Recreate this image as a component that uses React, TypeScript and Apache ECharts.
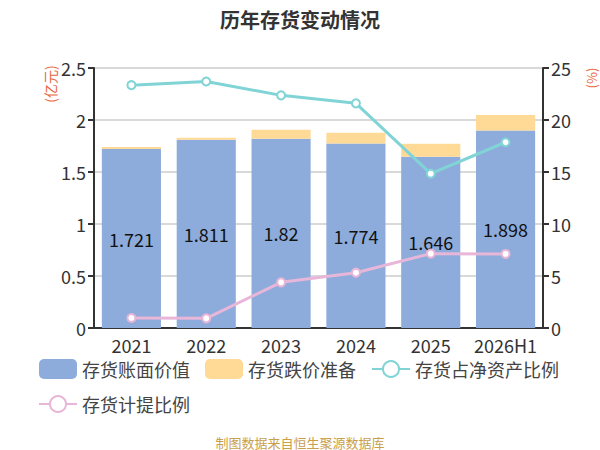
import { useEffect, useRef } from 'react';
import * as echarts from 'echarts';

// 历年存货变动情况
const years = ['2021', '2022', '2023', '2024', '2025', '2026H1'];
const bookValue = [1.721, 1.811, 1.82, 1.774, 1.646, 1.898]; // 存货账面价值 (亿元)
const impairment = [0.019, 0.019, 0.087, 0.104, 0.126, 0.15]; // 存货跌价准备 (亿元)
const netAssetRatio = [23.35, 23.7, 22.37, 21.6, 14.84, 17.86]; // 存货占净资产比例 (%)
const provisionRatio = [0.96, 0.93, 4.39, 5.32, 7.15, 7.12]; // 存货计提比例 (%)

const FONT = '"Noto Sans CJK SC", "Noto Sans", sans-serif';

export default function App() {
  const chartRef = useRef<HTMLDivElement>(null);

  useEffect(() => {
    if (!chartRef.current) return;
    document.body.style.margin = '0';
    const chart = echarts.init(chartRef.current, undefined, { renderer: 'svg' });

    const option: echarts.EChartsOption = {
      animation: false,
      backgroundColor: '#fff',
      textStyle: { fontFamily: FONT },
      title: {
        text: '历年存货变动情况',
        left: 'center',
        top: 4,
        textStyle: { fontSize: 20, fontWeight: 'bold', color: '#333', fontFamily: FONT },
      },
      grid: { left: 94, right: 57, top: 68, bottom: 122 },
      legend: {
        left: 33,
        top: 354,
        itemWidth: 38,
        itemHeight: 20,
        itemGap: 15,
        textStyle: { fontSize: 18, color: '#444', fontFamily: FONT, lineHeight: 20 },
        data: [
          { name: '存货账面价值', icon: 'roundRect' },
          { name: '存货跌价准备', icon: 'roundRect' },
          { name: '存货占净资产比例' },
          { name: '存货计提比例' },
        ],
      },
      xAxis: {
        type: 'category',
        data: years,
        axisLine: { lineStyle: { color: '#333', width: 2 } },
        axisTick: { lineStyle: { color: '#333', width: 2 }, length: 6 },
        axisLabel: {
          interval: 0,
          fontSize: 18,
          lineHeight: 18,
          color: '#333',
          margin: 8,
          fontFamily: FONT,
        },
      },
      yAxis: [
        {
          type: 'value',
          min: 0,
          max: 2.5,
          interval: 0.5,
          axisLine: { show: true, lineStyle: { color: '#333', width: 2 } },
          axisTick: { show: true, lineStyle: { color: '#333', width: 2 }, length: 6 },
          axisLabel: { fontSize: 18, color: '#333', margin: 8, fontFamily: FONT },
          splitLine: { lineStyle: { color: '#ccc', width: 1.5 } },
        },
        {
          type: 'value',
          min: 0,
          max: 25,
          interval: 5,
          axisLine: { show: true, lineStyle: { color: '#333', width: 2 } },
          axisTick: { show: true, lineStyle: { color: '#333', width: 2 }, length: 6 },
          axisLabel: { fontSize: 18, color: '#333', margin: 8, fontFamily: FONT },
          splitLine: { show: false },
        },
      ],
      series: [
        {
          name: '存货账面价值',
          type: 'bar',
          stack: 'inv',
          data: bookValue,
          barCategoryGap: '21%',
          itemStyle: { color: '#8dacdb' },
          label: {
            show: true,
            position: 'inside',
            fontSize: 18,
            color: '#111',
            fontFamily: FONT,
          },
        },
        {
          name: '存货跌价准备',
          type: 'bar',
          stack: 'inv',
          data: impairment,
          itemStyle: { color: '#ffd996' },
        },
        {
          name: '存货占净资产比例',
          type: 'line',
          yAxisIndex: 1,
          data: netAssetRatio,
          symbol: 'emptyCircle',
          symbolSize: 8,
          lineStyle: { color: '#80d4d6', width: 3 },
          itemStyle: { color: '#80d4d6', borderWidth: 2 },
        },
        {
          name: '存货计提比例',
          type: 'line',
          yAxisIndex: 1,
          data: provisionRatio,
          symbol: 'emptyCircle',
          symbolSize: 8,
          lineStyle: { color: '#e8b6d8', width: 3 },
          itemStyle: { color: '#e8b6d8', borderWidth: 2 },
        },
      ],
      graphic: [
        {
          type: 'text',
          x: 50,
          y: 84,
          rotation: Math.PI / 2,
          style: {
            text: '(亿元)',
            fill: '#e8663c',
            fontSize: 14,
            fontFamily: FONT,
            textAlign: 'center',
            textVerticalAlign: 'middle',
          },
        },
        {
          type: 'text',
          x: 591,
          y: 78,
          rotation: Math.PI / 2,
          style: {
            text: '(%)',
            fill: '#e8663c',
            fontSize: 13,
            fontFamily: FONT,
            textAlign: 'center',
            textVerticalAlign: 'middle',
          },
        },
        {
          type: 'text',
          x: 300,
          y: 442,
          style: {
            text: '制图数据来自恒生聚源数据库',
            fill: '#c9a04a',
            fontSize: 13,
            fontFamily: FONT,
            textAlign: 'center',
            textVerticalAlign: 'middle',
          },
        },
      ],
    };

    chart.setOption(option);
    return () => chart.dispose();
  }, []);

  return <div ref={chartRef} style={{ width: 600, height: 450 }} />;
}
